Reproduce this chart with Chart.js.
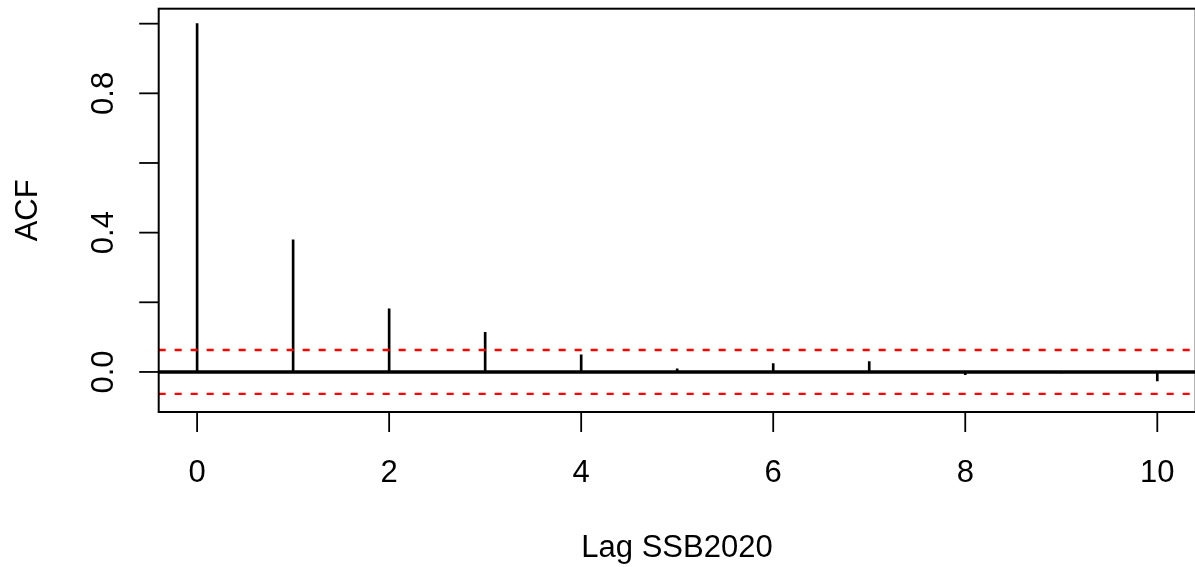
<!DOCTYPE html>
<html>
<head>
<meta charset="utf-8">
<script src="https://cdn.jsdelivr.net/npm/chart.js@4"></script>
<style>
  body { margin: 0; background: #fff; overflow: hidden; }
  #wrap { width: 1200px; height: 567px; }
</style>
</head>
<body>
<div id="wrap"><canvas id="acfChart" width="1200" height="567"></canvas></div>
<script>
// ACF values
const lags = [0, 1, 2, 3, 4, 5, 6, 7, 8, 9, 10];
const acfValues = [1.0, 0.379, 0.181, 0.114, 0.049, 0.009, 0.024, 0.030, -0.008, -0.003, -0.026];
const ciBound = 0.063;
const xTicks = [0, 2, 4, 6, 8, 10];
const yTicks = [0, 0.2, 0.4, 0.6, 0.8, 1.0];
const yLabelValues = [0, 0.4, 0.8];
const yLabels = ['0.0', '0.4', '0.8'];
const xTitle = 'Lag SSB2020';
const yTitle = 'ACF';

const xMin = -0.4, xMax = 10.4;
const font = '31px "Liberation Sans", Arial, sans-serif';

// box + axes like base R
const rAxes = {
    id: 'rAxes',
    afterDraw(chart) {
        const ctx = chart.ctx;
        const a = chart.chartArea;
        const xs = chart.scales.x, ys = chart.scales.y;
        ctx.save();
        ctx.strokeStyle = '#000';
        ctx.fillStyle = '#000';
        ctx.lineWidth = 2;
        ctx.strokeRect(a.left, a.top, a.right - a.left, a.bottom - a.top);

        // x ticks
        ctx.lineWidth = 1.8;
        ctx.font = font;
        ctx.textAlign = 'center';
        ctx.textBaseline = 'alphabetic';
        xTicks.forEach(t => {
            const px = xs.getPixelForValue(t);
            ctx.beginPath();
            ctx.moveTo(px, a.bottom);
            ctx.lineTo(px, a.bottom + 20);
            ctx.stroke();
            ctx.fillText(String(t), px, 482);
        });
        ctx.fillText(xTitle, 677, 556.5);

        // y ticks
        yTicks.forEach(t => {
            const py = ys.getPixelForValue(t);
            ctx.beginPath();
            ctx.moveTo(a.left, py);
            ctx.lineTo(a.left - 19.5, py);
            ctx.stroke();
        });
        yLabelValues.forEach((v, i) => {
            const py = ys.getPixelForValue(v);
            ctx.save();
            ctx.translate(113, py);
            ctx.rotate(-Math.PI / 2);
            ctx.fillText(yLabels[i], 0, 0);
            ctx.restore();
        });
        ctx.save();
        ctx.translate(36.7, (a.top + a.bottom) / 2);
        ctx.rotate(-Math.PI / 2);
        ctx.fillText(yTitle, 0, 0);
        ctx.restore();
        ctx.restore();
    }
};

new Chart(document.getElementById('acfChart'), {
    type: 'bar',
    data: {
        datasets: [
            {
                type: 'line',
                data: [{x: xMin, y: ciBound}, {x: xMax, y: ciBound}],
                borderColor: '#ff0000',
                borderWidth: 2.4,
                borderDash: [7, 9],
                pointRadius: 0,
                order: 1
            },
            {
                type: 'line',
                data: [{x: xMin, y: -ciBound}, {x: xMax, y: -ciBound}],
                borderColor: '#ff0000',
                borderWidth: 2.4,
                borderDash: [7, 9],
                pointRadius: 0,
                order: 1
            },
            {
                type: 'line',
                data: [{x: xMin, y: 0}, {x: xMax, y: 0}],
                borderColor: '#000',
                borderWidth: 3.5,
                pointRadius: 0,
                order: 2
            },
            {
                type: 'bar',
                data: lags.map((l, i) => ({x: l, y: acfValues[i]})),
                backgroundColor: '#000',
                barThickness: 2,
                order: 3
            }
        ]
    },
    options: {
        responsive: false,
        animation: false,
        events: [],
        layout: { padding: { left: 158.7, top: 8.7, right: 4.3, bottom: 155 } },
        plugins: { legend: { display: false }, tooltip: { enabled: false } },
        scales: {
            x: { type: 'linear', min: xMin, max: xMax, offset: false, display: false },
            y: { type: 'linear', min: -0.115, max: 1.043, display: false }
        }
    },
    plugins: [rAxes]
});
</script>
</body>
</html>
